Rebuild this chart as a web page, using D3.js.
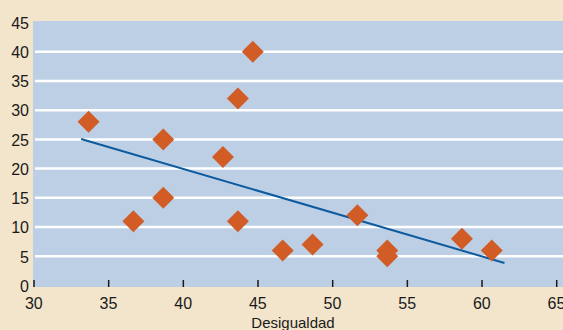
<!DOCTYPE html>
<html><head><meta charset="utf-8">
<script src="https://cdn.jsdelivr.net/npm/d3@7"></script>
<style>body{margin:0;background:#f3e5cc;}svg{display:block;}</style>
</head><body>
<svg id="c" width="563" height="330"></svg>
<script>
const desigualdad = [33.7, 36.7, 38.7, 38.7, 42.7, 43.7, 43.7, 44.7, 46.7, 48.7, 51.7, 53.7, 53.7, 58.7, 60.7];
const valores     = [28, 11, 25, 15, 22, 32, 11, 40, 6, 7, 12, 6, 5, 8, 6];
const trendX = [33.2, 61.55];
const trendY = [25.06, 3.85];
const xTicks = [30, 35, 40, 45, 50, 55, 60, 65];
const yTicks = [0, 5, 10, 15, 20, 25, 30, 35, 40, 45];
const xTitle = "Desigualdad";

const svg = d3.select("#c");
const x = d3.scaleLinear().domain([30, 65]).range([33.3, 556]);
const y = d3.scaleLinear().domain([0, 45]).range([285.5, 22.5]);

svg.append("rect").attr("x", 0).attr("y", 0).attr("width", 563).attr("height", 330).attr("fill", "#f3e5cc");
svg.append("rect").attr("x", 33).attr("y", 21).attr("width", 530).attr("height", 266).attr("fill", "#bccfe5");

// gridlines
svg.append("g").selectAll("line").data(yTicks.filter(t => t > 0 && t < 45)).join("line")
  .attr("x1", 35).attr("x2", 563)
  .attr("y1", d => y(d)).attr("y2", d => y(d))
  .attr("stroke", "#ffffff").attr("stroke-width", 2.5);

// x axis ticks (inward)
const xAxis = d3.axisBottom(x).tickValues(xTicks).tickSize(0).tickPadding(0).tickFormat(d3.format("d"));
const gx = svg.append("g").attr("transform", "translate(0,287)").call(xAxis);
gx.select(".domain").remove();
gx.selectAll(".tick line").remove();
gx.selectAll(".tick text").attr("y", 22).attr("dy", 0)
  .attr("font-family", "Liberation Sans, Arial, sans-serif").attr("font-size", 16).attr("fill", "#1a1a1a");
svg.append("g").selectAll("line").data(xTicks).join("line")
  .attr("x1", d => Math.min(x(d) + 0.7, 557)).attr("x2", d => Math.min(x(d) + 0.7, 557))
  .attr("y1", 280).attr("y2", 287)
  .attr("stroke", "#1a1a1a").attr("stroke-width", 1.5);

// y axis labels
const yAxis = d3.axisLeft(y).tickValues(yTicks).tickSize(0).tickPadding(4).tickFormat(d3.format("d"));
const gy = svg.append("g").attr("transform", "translate(33,0)").call(yAxis);
gy.select(".domain").remove();
gy.selectAll(".tick text").attr("dy", "0.36em")
  .attr("font-family", "Liberation Sans, Arial, sans-serif").attr("font-size", 16).attr("fill", "#1a1a1a");

// trend line
svg.append("line")
  .attr("x1", x(trendX[0])).attr("y1", y(trendY[0]))
  .attr("x2", x(trendX[1])).attr("y2", y(trendY[1]))
  .attr("stroke", "#0d5a9e").attr("stroke-width", 2);

// diamonds
const pts = desigualdad.map((d, i) => [d, valores[i]]);
svg.append("g").selectAll("path").data(pts).join("path")
  .attr("transform", d => `translate(${x(d[0])},${y(d[1])})`)
  .attr("d", "M0,-11L11,0L0,11L-11,0Z")
  .attr("fill", "#d15c26");

// title
svg.append("text").attr("x", 293).attr("y", 328).attr("text-anchor", "middle")
  .attr("font-family", "Liberation Sans, Arial, sans-serif").attr("font-size", 15).attr("fill", "#1a1a1a")
  .text(xTitle);
</script>
</body></html>
